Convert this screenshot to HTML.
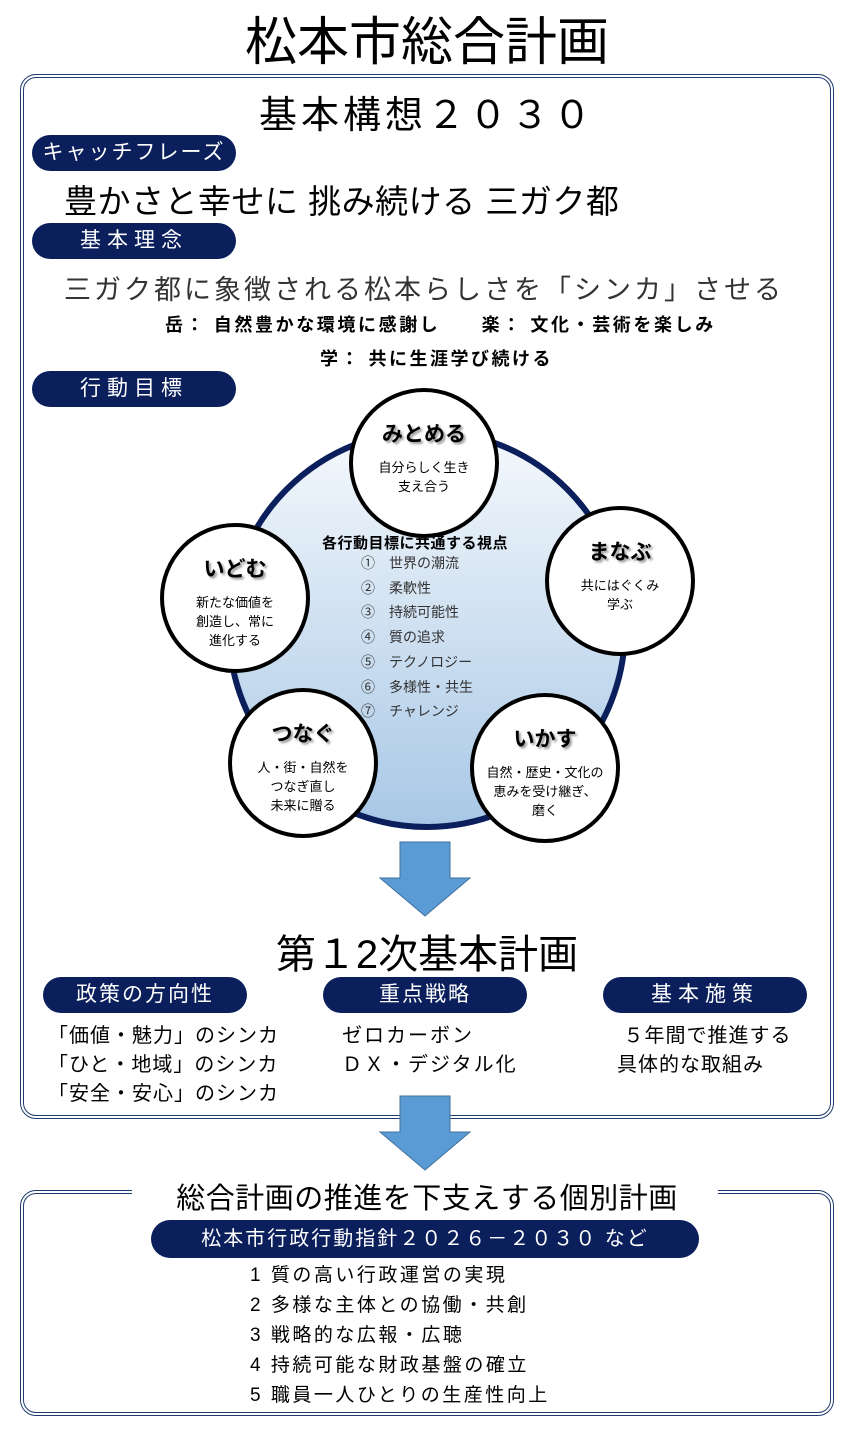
<!DOCTYPE html>
<html><head><meta charset="utf-8"><style>
body{margin:0;width:854px;height:1435px;background:#fff;position:relative;font-family:"Liberation Sans","Noto Sans CJK JP",sans-serif;color:#000;overflow:hidden}
.a{position:absolute;white-space:nowrap}
.box{position:absolute;border:4px double #1f3a6e;border-radius:16px}
.pill{position:absolute;background:#0b1f5c;color:#fff;border-radius:20px;text-align:center;font-size:21px;letter-spacing:2px}
.sc{position:absolute;width:142px;height:142px;border:4px solid #000;border-radius:50%;background:#fff;text-align:center}
.sc b{display:block;font-size:21px;margin-top:26px;text-shadow:2px 2px 2px #999}
.sc span{display:block;font-size:13px;line-height:19px;margin-top:10px}
</style></head><body>
<div class="a" style="left:0;width:854px;text-align:center;top:0px;font-size:52px">松本市総合計画</div>
<div class="box" style="left:20px;top:74px;width:806px;height:1037px"></div>
<div class="a" style="left:0;width:854px;text-align:center;top:84px;font-size:38px;letter-spacing:4px">基本構想２０３０</div>
<div class="pill" style="left:32px;top:135px;width:204px;height:36px;line-height:36px">キャッチフレーズ</div>
<div class="a" style="left:64px;top:175px;font-size:33px;letter-spacing:0.5px">豊かさと幸せに 挑み続ける 三ガク都</div>
<div class="pill" style="left:32px;top:223px;width:204px;height:36px;line-height:36px;letter-spacing:6px">基本理念</div>
<div class="a" style="left:64px;top:268px;font-size:27px;letter-spacing:3px;color:#333">三ガク都に象徴される松本らしさを「シンカ」させる</div>
<div class="a" style="left:165px;top:311px;font-size:18px;font-weight:bold;letter-spacing:2.6px">岳： 自然豊かな環境に感謝し　　楽： 文化・芸術を楽しみ</div>
<div class="a" style="left:320px;top:345px;font-size:18px;font-weight:bold;letter-spacing:2.5px">学： 共に生涯学び続ける</div>
<div class="pill" style="left:32px;top:371px;width:204px;height:36px;line-height:36px;letter-spacing:6px">行動目標</div>
<div class="a" style="left:226px;top:428px;width:390px;height:390px;border:6px solid #0b1f5c;border-radius:50%;background:linear-gradient(#f4f8fc,#a9c8e6)"></div>
<div class="a" style="left:322px;top:532px;font-size:15px;font-weight:bold;letter-spacing:0.5px">各行動目標に共通する視点</div>
<div class="a" style="left:361px;top:551px;font-size:14px;line-height:24.7px;color:#333">①　世界の潮流<br>②　柔軟性<br>③　持続可能性<br>④　質の追求<br>⑤　テクノロジー<br>⑥　多様性・共生<br>⑦　チャレンジ</div>
<div class="sc" style="left:349px;top:388px"><b>みとめる</b><span>自分らしく生き<br>支え合う</span></div>
<div class="sc" style="left:160px;top:523px"><b>いどむ</b><span>新たな価値を<br>創造し、常に<br>進化する</span></div>
<div class="sc" style="left:545px;top:506px"><b>まなぶ</b><span>共にはぐくみ<br>学ぶ</span></div>
<div class="sc" style="left:228px;top:688px"><b>つなぐ</b><span>人・街・自然を<br>つなぎ直し<br>未来に贈る</span></div>
<div class="sc" style="left:470px;top:693px"><b>いかす</b><span>自然・歴史・文化の<br>恵みを受け継ぎ、<br>磨く</span></div>
<svg class="a" style="left:370px;top:840px" width="110" height="80"><polygon points="30,2 80,2 80,38 100,38 55,76 10,38 30,38" fill="#5b9bd5" stroke="#41719c" stroke-width="1"/></svg>
<div class="a" style="left:0;width:854px;text-align:center;top:922px;font-size:40px">第１2次基本計画</div>
<div class="pill" style="left:43px;top:977px;width:204px;height:36px;line-height:36px">政策の方向性</div>
<div class="pill" style="left:323px;top:977px;width:204px;height:36px;line-height:36px">重点戦略</div>
<div class="pill" style="left:603px;top:977px;width:204px;height:36px;line-height:36px;letter-spacing:6px">基本施策</div>
<div class="a" style="left:48px;top:1022px;font-size:20px;line-height:29px;letter-spacing:1px">「価値・魅力」のシンカ<br>「ひと・地域」のシンカ<br>「安全・安心」のシンカ</div>
<div class="a" style="left:342px;top:1022px;font-size:20px;line-height:29px;letter-spacing:2px">ゼロカーボン<br>ＤＸ・デジタル化</div>
<div class="a" style="left:617px;top:1022px;font-size:20px;line-height:29px;letter-spacing:1px">&nbsp;５年間で推進する<br>具体的な取組み</div>
<svg class="a" style="left:370px;top:1094px" width="110" height="80"><polygon points="30,2 80,2 80,38 100,38 55,76 10,38 30,38" fill="#5b9bd5" stroke="#41719c" stroke-width="1"/></svg>
<div class="box" style="left:20px;top:1190px;width:806px;height:218px"></div>
<div class="a" style="left:132px;top:1180px;width:586px;height:30px;background:#fff"></div>
<div class="a" style="left:0;width:854px;text-align:center;top:1175px;font-size:29px;letter-spacing:0.5px">総合計画の推進を下支えする個別計画</div>
<div class="pill" style="left:151px;top:1220px;width:548px;height:38px;line-height:38px;font-size:20px">松本市行政行動指針２０２６－２０３０ など</div>
<div class="a" style="left:250px;top:1261px;font-size:19px;line-height:30px;letter-spacing:2.5px">1 質の高い行政運営の実現<br>2 多様な主体との協働・共創<br>3 戦略的な広報・広聴<br>4 持続可能な財政基盤の確立<br>5 職員一人ひとりの生産性向上</div>
</body></html>
